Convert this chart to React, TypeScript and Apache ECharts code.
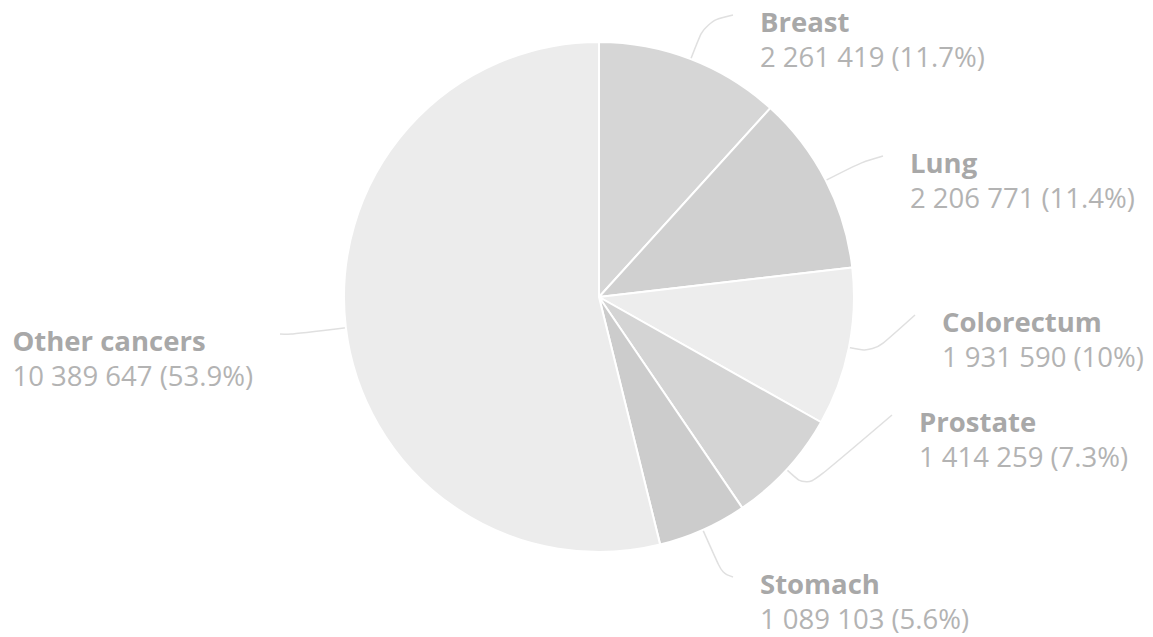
import React, { useEffect, useRef } from "react";
import * as echarts from "echarts";

const categories = ["Breast", "Lung", "Colorectum", "Prostate", "Stomach", "Other cancers"];
const values = [2261419, 2206771, 1931590, 1414259, 1089103, 10389647];
const colors = ["#d6d6d6", "#d0d0d0", "#ededed", "#d4d4d4", "#cccccc", "#ececec"];

// label layout (pixels): connector end points and radial lengths of the first connector segment
const CENTER = [599, 297];
const RADIUS = 255;
const labelEnds = [
  [733, 15],
  [883, 156],
  [915, 315],
  [892, 415],
  [733, 577],
  [280, 334],
];
const bendLengths = [40, 40, 25, 27, 47, 55];
const LABEL_GAP = 27;
const LABEL_DY = 24;

const fmtNum = (v: number) => String(v).replace(/\B(?=(\d{3})+(?!\d))/g, " ");

export default function App() {
  const ref = useRef<HTMLDivElement>(null);
  useEffect(() => {
    document.body.style.margin = "0";
    const chart = echarts.init(ref.current!, undefined, { renderer: "svg" });
    const total = values.reduce((a, b) => a + b, 0);
    chart.setOption({
      animation: false,
      backgroundColor: "#ffffff",
      series: [
        {
          type: "pie",
          center: CENTER,
          radius: RADIUS,
          startAngle: 90,
          clockwise: true,
          data: categories.map((name, i) => ({
            name,
            value: values[i],
            itemStyle: { color: colors[i] },
          })),
          itemStyle: { borderColor: "#ffffff", borderWidth: 2 },
          label: {
            show: true,
            formatter: (p: any) => {
              const pct = parseFloat(((p.value / total) * 100).toFixed(1));
              return `{name|${p.name}}\n{value|${fmtNum(p.value)} (${pct}%)}`;
            },
            rich: {
              name: {
                fontFamily: "Open Sans",
                fontWeight: "bold",
                fontSize: 27.5,
                lineHeight: 35,
                color: "#a8a8a8",
                align: "left",
              },
              value: {
                fontFamily: "Open Sans",
                fontSize: 27.5,
                lineHeight: 35,
                color: "#b3b3b3",
                align: "left",
              },
            },
          },
          labelLine: {
            show: true,
            length: 30,
            length2: 20,
            smooth: 0.35,
            lineStyle: { color: "#e0e0e0", width: 1.5 },
          },
          labelLayout: (p: any) => {
            const i = p.dataIndex;
            const pts = p.labelLinePoints;
            if (!pts) return {};
            const start = pts[0];
            const dx = start[0] - CENTER[0];
            const dy = start[1] - CENTER[1];
            const d = Math.hypot(dx, dy) || 1;
            const bend = [start[0] + (dx / d) * bendLengths[i], start[1] + (dy / d) * bendLengths[i]];
            const end = labelEnds[i];
            const right = end[0] > CENTER[0];
            return {
              x: end[0] + (right ? LABEL_GAP : -LABEL_GAP),
              y: end[1] + LABEL_DY,
              align: right ? "left" : "right",
              verticalAlign: "middle",
              labelLinePoints: [start, bend, end],
            };
          },
          emphasis: { disabled: true },
        },
      ],
    });
    return () => chart.dispose();
  }, []);
  return <div ref={ref} style={{ width: 1153, height: 637 }} />;
}
